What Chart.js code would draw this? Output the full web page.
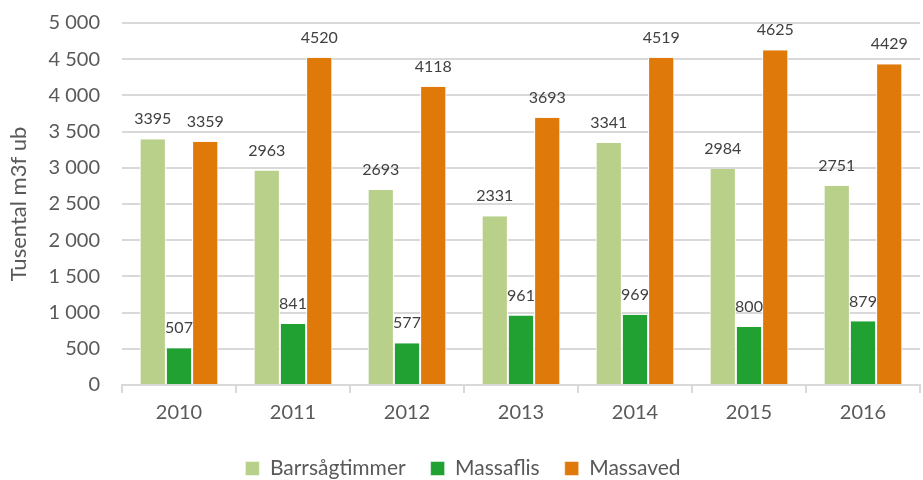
<!DOCTYPE html>
<html>
<head>
<meta charset="utf-8">
<script src="https://cdn.jsdelivr.net/npm/chart.js@4/dist/chart.umd.min.js"></script>
<style>
  html, body { margin: 0; padding: 0; background: #fff; }
  #wrap { width: 923px; height: 480px; }
</style>
</head>
<body>
<div id="wrap"><canvas id="chart"></canvas></div>
<script>
const years = ["2010", "2011", "2012", "2013", "2014", "2015", "2016"];
const barrsagtimmer = [3395, 2963, 2693, 2331, 3341, 2984, 2751];
const massaflis = [507, 841, 577, 961, 969, 800, 879];
const massaved = [3359, 4520, 4118, 3693, 4519, 4625, 4429];

const fontFamily = "Lato, 'Open Sans', sans-serif";

// draws the value above every bar
const valueLabels = {
    id: "valueLabels",
    afterDatasetsDraw(chart) {
        const ctx = chart.ctx;
        ctx.save();
        ctx.font = "16px " + fontFamily;
        ctx.fillStyle = "#404040";
        ctx.textAlign = "center";
        ctx.textBaseline = "bottom";
        chart.data.datasets.forEach(function (ds, i) {
            chart.getDatasetMeta(i).data.forEach(function (bar, j) {
                ctx.fillText(String(ds.data[j]), bar.x, bar.y - 12);
            });
        });
        ctx.restore();
    }
};

document.addEventListener('DOMContentLoaded', function () {
    new Chart("chart", {
        type: "bar",
        data: {
            labels: years,
            datasets: [
                { label: "Barrsågtimmer", data: barrsagtimmer, backgroundColor: "#b8d08a", borderColor: "#ffffff", borderWidth: { left: 1, right: 1 } },
                { label: "Massaflis", data: massaflis, backgroundColor: "#21a132", borderColor: "#ffffff", borderWidth: { left: 1, right: 1 } },
                { label: "Massaved", data: massaved, backgroundColor: "#df7a0a", borderColor: "#ffffff", borderWidth: { left: 1, right: 1 } },
            ],
        },
        options: {
            responsive: true,
            maintainAspectRatio: false,
            animation: false,
            layout: { padding: { top: 0, right: 3, left: 6, bottom: -9 } },
            datasets: { bar: { categoryPercentage: 0.69, barPercentage: 1.0 } },
            plugins: {
                legend: {
                    position: "bottom",
                    labels: {
                        boxWidth: 14,
                        boxHeight: 14,
                        padding: 25,
                        color: "#595959",
                        font: { size: 21, family: fontFamily },
                    },
                },
                tooltip: { enabled: false },
            },
            scales: {
                x: {
                    offset: true,
                    grid: { offset: true, drawOnChartArea: false, drawTicks: true, tickLength: 8, color: "#d9d9d9", lineWidth: 2 },
                    border: { color: "#d9d9d9", width: 2 },
                    ticks: { color: "#595959", font: { size: 20, family: fontFamily }, padding: 8 },
                },
                y: {
                    min: 0,
                    max: 5000,
                    afterFit: function (scale) {
                        scale.width = 116;
                        scale.paddingTop = 23;
                        scale.paddingBottom = 12;
                    },
                    ticks: {
                        stepSize: 500,
                        color: "#595959",
                        padding: 22,
                        font: { size: 20, family: fontFamily },
                        callback: function (v) { return String(v).replace(/\B(?=(\d{3})+(?!\d))/g, " "); },
                    },
                    grid: { color: "#d9d9d9", lineWidth: 2, drawTicks: false },
                    border: { display: false },
                    title: { display: true, text: "Tusental m3f ub", color: "#595959", font: { size: 22, family: fontFamily }, padding: 0 },
                },
            },
        },
        plugins: [valueLabels],
    });
});
</script>
</body>
</html>
